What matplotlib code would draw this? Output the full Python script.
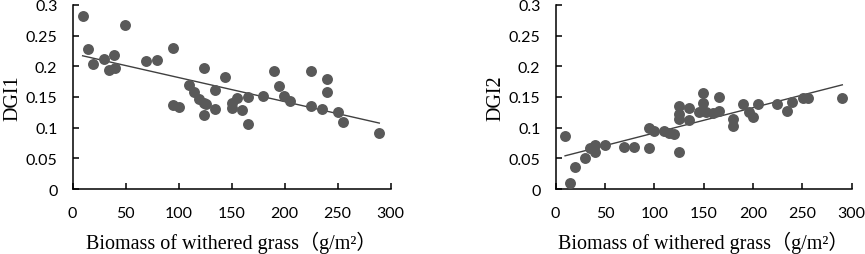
import numpy as np
import matplotlib
matplotlib.use('Agg')
import matplotlib.pyplot as plt

# left panel: DGI1 vs biomass
x1 = [9.4, 14.8, 19.5, 29.2, 34.3, 39.3, 39.9, 49.7, 69.5, 79.9,
      95, 95, 100, 109.4, 114.5, 119.2, 124, 124, 125.5, 124,
      134, 134, 144, 150, 150, 154.7, 159.7, 165, 165, 180,
      190, 194.7, 199.7, 205, 224.8, 224.8, 235, 239.6, 239.6, 250,
      255, 289.3]
y1 = [0.282, 0.229, 0.203, 0.212, 0.194, 0.218, 0.198, 0.267, 0.209, 0.210,
      0.230, 0.1375, 0.134, 0.170, 0.158, 0.147, 0.198, 0.141, 0.139, 0.121,
      0.162, 0.130, 0.182, 0.140, 0.132, 0.149, 0.129, 0.1505, 0.106, 0.151,
      0.192, 0.168, 0.151, 0.1435, 0.135, 0.192, 0.130, 0.180, 0.158, 0.125,
      0.109, 0.091]

# right panel: DGI2 vs biomass
x2 = [9.5, 14.6, 19.3, 29.8, 34.9, 39.7, 39.7, 49.8, 69.5, 79.7,
      94.6, 94.6, 99.7, 109.8, 115.3, 120, 125, 125, 125, 125,
      135, 135, 145, 149.5, 149.5, 152.5, 159.3, 165.4, 165.4, 180,
      180, 189.5, 195.6, 200, 205, 224.7, 234.9, 240, 250.5, 255.6,
      290.5]
y2 = [0.086, 0.010, 0.036, 0.050, 0.067, 0.071, 0.060, 0.071, 0.068, 0.068,
      0.0995, 0.067, 0.095, 0.094, 0.091, 0.090, 0.136, 0.123, 0.114, 0.060,
      0.1315, 0.1125, 0.125, 0.1565, 0.140, 0.125, 0.124, 0.1495, 0.1266, 0.114,
      0.102, 0.138, 0.125, 0.118, 0.138, 0.138, 0.1266, 0.142, 0.148, 0.148,
      0.148]

xticks = [0, 50, 100, 150, 200, 250, 300]
yticks = [0, 0.05, 0.1, 0.15, 0.2, 0.25, 0.3]
ytick_labels = ['0', '0.05', '0.1', '0.15', '0.2', '0.25', '0.3']
xlabel = 'Biomass of withered grass（g/m²）'

fig = plt.figure(figsize=(8.65, 2.55), dpi=100)
ax1 = fig.add_axes([0.084, 0.2549, 0.3676, 0.7216])
ax2 = fig.add_axes([0.6424, 0.2549, 0.3422, 0.7216])

tick_font = 'Lato'
serif = ['Liberation Serif', 'Noto Sans CJK SC']

for ax, xs, ys, lab in [(ax1, x1, y1, 'DGI1'), (ax2, x2, y2, 'DGI2')]:
    ax.scatter(xs, ys, s=62, color='#595959', zorder=3, linewidths=0,
               clip_on=False)
    # linear trend
    k, b = np.polyfit(xs, ys, 1)
    xl = np.array([min(xs), max(xs)])
    ax.plot(xl, k * xl + b, color='#404040', lw=1.0, zorder=2)

    ax.set_xlim(0, 300)
    ax.set_ylim(0, 0.3)
    ax.set_xticks(xticks)
    ax.set_yticks(yticks)
    ax.set_yticklabels(ytick_labels)
    for s in ['top', 'right']:
        ax.spines[s].set_visible(False)
    for s in ['left', 'bottom']:
        ax.spines[s].set_linewidth(1.1)
        ax.spines[s].set_color('black')
    ax.tick_params(direction='in', length=4, width=1.1, labelsize=11.5,
                   colors='black')
    ax.tick_params(axis='x', pad=12)
    ax.tick_params(axis='y', pad=11)
    for t in ax.get_xticklabels() + ax.get_yticklabels():
        t.set_fontfamily(tick_font)
    ax.set_xlabel(xlabel, family=serif, fontsize=14.5, labelpad=8)
    ax.set_ylabel(lab, family=serif, fontsize=14.5, labelpad=2)

fig.savefig('out.png', dpi=100)
